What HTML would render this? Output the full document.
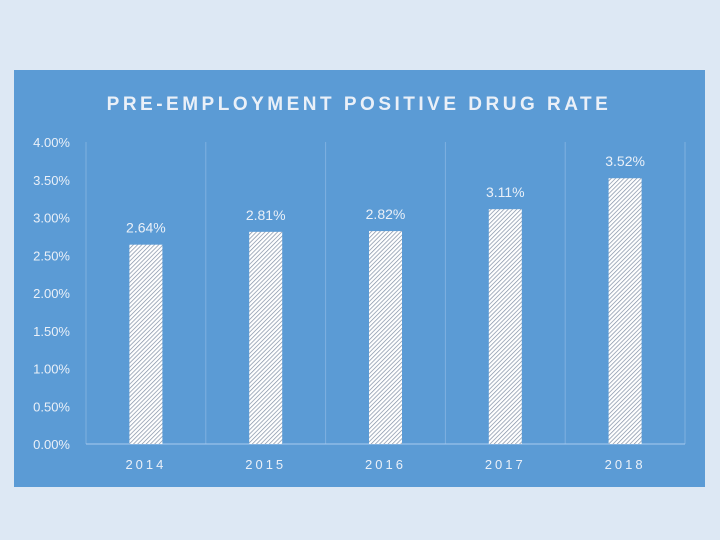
<!DOCTYPE html>
<html><head><meta charset="utf-8"><style>
body{margin:0;width:720px;height:540px;background:#dde8f4;overflow:hidden;font-family:"Liberation Sans",sans-serif}
</style></head><body>
<svg width="720" height="540" style="position:absolute;left:0;top:0">
<defs>
<pattern id="hatch" width="3" height="3" patternUnits="userSpaceOnUse" patternTransform="rotate(45)">
<rect width="3" height="3" fill="#ffffff"/>
<line x1="0" y1="0" x2="0" y2="3" stroke="#7f8ea3" stroke-width="1.4"/>
</pattern>
</defs>
<rect x="14" y="70" width="691" height="417" fill="#5b9bd5"/>
<text x="359" y="110" text-anchor="middle" fill="#eaf0f8" font-size="19" font-weight="bold" letter-spacing="3.5">PRE-EMPLOYMENT POSITIVE DRUG RATE</text>
<g id="plot"></g>
</svg>
<script>
const categories=["2014","2015","2016","2017","2018"];
const values=[2.64,2.81,2.82,3.11,3.52];
const valueLabels=["2.64%","2.81%","2.82%","3.11%","3.52%"];
const yTicks=[0,0.5,1,1.5,2,2.5,3,3.5,4];
const yTickLabels=["0.00%","0.50%","1.00%","1.50%","2.00%","2.50%","3.00%","3.50%","4.00%"];
const NS="http://www.w3.org/2000/svg";
const g=document.getElementById('plot');
const L=86,R=685,T=142,B=444;
const y=v=>B-(v/4)*(B-T);
const bw=(R-L)/categories.length;
const x=i=>L+bw*i;
function mk(t,a){const e=document.createElementNS(NS,t);for(const k in a)e.setAttribute(k,a[k]);g.appendChild(e);return e;}
for(let i=0;i<=categories.length;i++){
 const l=mk('line',{x1:x(i),x2:x(i),y1:T,y2:B,stroke:'#7fb0e0','stroke-width':1});
 
 
}
const ax=mk('line',{x1:L,x2:R,y1:B,y2:B,stroke:'#a9cbef','stroke-width':1});


yTicks.forEach((v,i)=>{
 const t=mk('text',{x:70,y:y(v)+5,'text-anchor':'end',fill:'#eaf0f8','font-size':13});
 t.textContent=yTickLabels[i];
 
 
});
categories.forEach((c,i)=>{
 const cx=x(i)+bw/2;
 const b=mk('rect',{x:cx-16.5,y:y(values[i]),width:33,height:B-y(values[i]),fill:'url(#hatch)'});
 
 
 const v=mk('text',{x:cx,y:y(values[i])-12,'text-anchor':'middle',fill:'#eaf0f8','font-size':14});
 v.textContent=valueLabels[i];
 
 
 const t=mk('text',{x:cx,y:469,'text-anchor':'middle',fill:'#eaf0f8','font-size':13,'letter-spacing':3});
 t.textContent=c;
 
 
});
</script>
</body></html>
